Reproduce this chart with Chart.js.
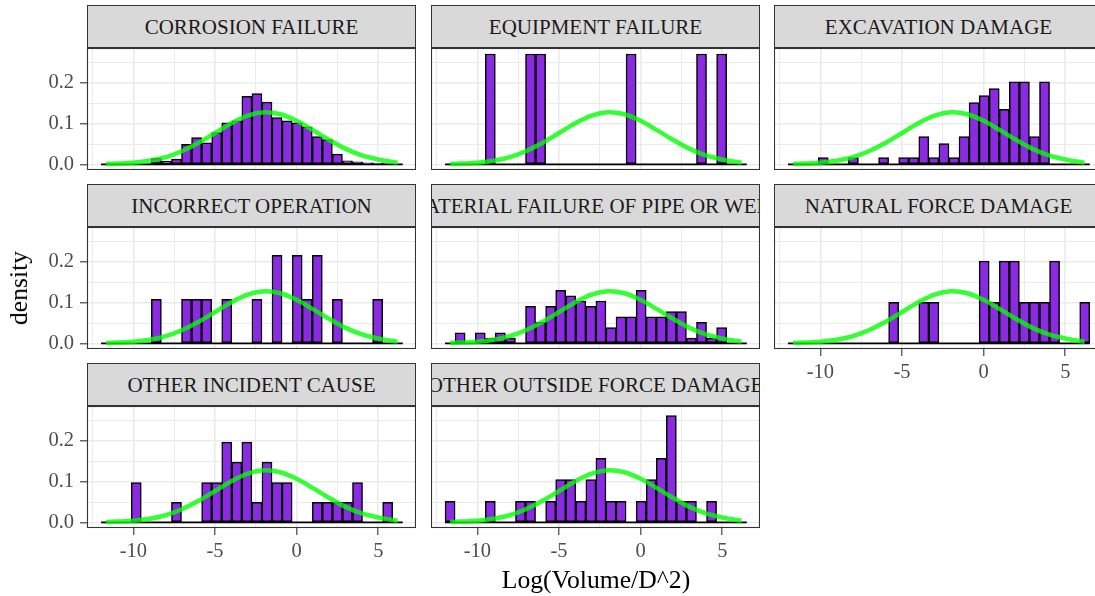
<!DOCTYPE html>
<html>
<head>
<meta charset="utf-8">
<script src="https://cdn.jsdelivr.net/npm/chart.js@4.4.1/dist/chart.umd.min.js"></script>
<style>
  html, body { margin: 0; padding: 0; background: #fff; }
  body { width: 1095px; height: 596px; position: relative; overflow: hidden;
         font-family: "Liberation Serif", "Times New Roman", serif; }
  canvas { position: absolute; }
  .strip { position: absolute; box-sizing: border-box; background: #D9D9D9;
           border: 1px solid #333; display: flex; justify-content: center; align-items: center;
           overflow: hidden; color: #1A1A1A; font-size: 21px; white-space: nowrap; padding-top: 2px; }
  .axis-title { position: absolute; font-size: 25.7px; color: #000; white-space: nowrap;
                transform: translate(-50%, -50%); }
  .axis-title.rot { transform: translate(-50%, -50%) rotate(-90deg); }
</style>
</head>
<body>
<script>
// histogram bins shared by all facets (30 bins)
const binStart = -11.98;
const binWidth = 0.616;

const facetNames = [
    "CORROSION FAILURE", "EQUIPMENT FAILURE", "EXCAVATION DAMAGE",
    "INCORRECT OPERATION", "MATERIAL FAILURE OF PIPE OR WELD", "NATURAL FORCE DAMAGE",
    "OTHER INCIDENT CAUSE", "OTHER OUTSIDE FORCE DAMAGE"
];

// density per bin
const corrosionFailure  = [0, 0, 0, 0, 0.002, 0.015, 0.008, 0.013, 0.049, 0.066, 0.053, 0.078, 0.102, 0.107, 0.167,
                           0.174, 0.153, 0.115, 0.107, 0.102, 0.092, 0.068, 0.061, 0.025, 0.009, 0.006, 0.004, 0.003, 0.002, 0];
const equipmentFailure  = [0, 0, 0, 0, 0.271, 0, 0, 0, 0.271, 0.271, 0, 0, 0, 0, 0,
                           0, 0, 0, 0.271, 0, 0, 0, 0, 0, 0, 0.271, 0, 0.271, 0, 0];
const excavationDamage  = [0, 0, 0, 0.017, 0, 0, 0.017, 0, 0, 0.017, 0, 0.017, 0.017, 0.068, 0.017,
                           0.051, 0.017, 0.068, 0.152, 0.169, 0.186, 0.135, 0.203, 0.203, 0.068, 0.203, 0, 0, 0, 0];
const incorrectOperation = [0, 0, 0, 0, 0, 0.108, 0, 0, 0.108, 0.108, 0.108, 0, 0.108, 0, 0,
                           0.108, 0, 0.216, 0, 0.216, 0.108, 0.216, 0, 0.108, 0, 0, 0, 0.108, 0, 0];
const materialFailure   = [0, 0.026, 0, 0.026, 0.013, 0.026, 0.013, 0, 0.091, 0.052, 0.091, 0.130, 0.117, 0.104, 0.091,
                           0.104, 0.039, 0.065, 0.065, 0.130, 0.065, 0.065, 0.078, 0.078, 0.013, 0.052, 0.013, 0.039, 0, 0];
const naturalForceDamage = [0, 0, 0, 0, 0, 0, 0, 0, 0, 0, 0.101, 0, 0, 0.101, 0.101,
                           0, 0, 0, 0, 0.202, 0.101, 0.202, 0.202, 0.101, 0.101, 0.101, 0.202, 0, 0, 0.101];
const otherIncidentCause = [0, 0, 0, 0.098, 0, 0, 0, 0.049, 0, 0, 0.098, 0.098, 0.197, 0.148, 0.197,
                           0.049, 0.148, 0.098, 0.098, 0, 0, 0.049, 0.049, 0.049, 0.049, 0.098, 0, 0, 0.049, 0];
const otherOutsideForce = [0.052, 0, 0, 0, 0.052, 0, 0, 0.052, 0.052, 0, 0.052, 0.105, 0.105, 0.052, 0.105,
                           0.157, 0.052, 0.052, 0, 0.052, 0.105, 0.157, 0.262, 0.052, 0.052, 0, 0.052, 0, 0, 0];

const facetDensities = [corrosionFailure, equipmentFailure, excavationDamage, incorrectOperation,
                        materialFailure, naturalForceDamage, otherIncidentCause, otherOutsideForce];

// green normal curve, same in every facet
const curveX = [-11.67, -11, -10, -9, -8, -7, -6, -5, -4, -3, -2, -1, 0, 1, 2, 3, 4, 5, 6, 6.18];
const curveY = [0.001, 0.002, 0.004, 0.009, 0.018, 0.033, 0.053, 0.077, 0.101, 0.12, 0.128, 0.123,
                0.107, 0.084, 0.06, 0.038, 0.022, 0.012, 0.005, 0.005];

const xBreaks = [-10, -5, 0, 5];
const xMinorBreaks = [-12.5, -7.5, -2.5, 2.5];
const yBreaks = [0, 0.1, 0.2];
const yMinorBreaks = [0.05, 0.15, 0.25];

// layout
const colLeft = [87, 431, 774];
const rowTop = [5, 184, 363];
const stripH = 43, plotW = 329, plotH = 122;
const yAxisW = 87, xAxisH = 46;
const xRange = [-12.84, 7.31];
const yRange = [-0.0138, 0.2858];

const panelBorder = {
    id: 'panelBorder',
    afterDraw(chart) {
        const { ctx, chartArea: a } = chart;
        ctx.save();
        ctx.strokeStyle = '#333333';
        ctx.lineWidth = 1.1;
        ctx.strokeRect(a.left + 0.5, a.top + 0.5, a.right - a.left - 1, a.bottom - a.top - 1);
        ctx.restore();
    }
};

function makeScale(range, breaks, minor, showLabels, size, horizontal, fmt, padding) {
    const all = [...breaks, ...minor].sort((a, b) => a - b);
    const isMajor = v => breaks.some(b => Math.abs(b - v) < 1e-9);
    return {
        type: 'linear', min: range[0], max: range[1], offset: false,
        afterBuildTicks: axis => { axis.ticks = all.map(v => ({ value: v })); },
        afterFit: axis => {
            if (horizontal) axis.height = size; else axis.width = size;
            // labels may spill past the panel, no extra room for them
            axis.paddingTop = axis.paddingBottom = axis.paddingLeft = axis.paddingRight = 0;
        },
        border: { display: false },
        grid: {
            offset: false,
            color: '#EBEBEB',
            lineWidth: ctx => isMajor(ctx.tick.value) ? 1.6 : 1,
            drawTicks: showLabels,
            tickLength: 7,
            tickWidth: 1.1,
            tickColor: ctx => isMajor(ctx.tick.value) ? '#333333' : 'rgba(0,0,0,0)'
        },
        ticks: {
            display: showLabels, autoSkip: false, maxRotation: 0, padding: padding,
            color: '#4D4D4D', font: { family: 'Liberation Serif', size: 20.5 },
            callback: v => isMajor(v) ? fmt(v) : ''
        }
    };
}

facetNames.forEach((name, i) => {
    const col = i % 3, row = Math.floor(i / 3);
    const showY = col === 0;
    const showX = row === 2 || i === 5;

    const strip = document.createElement('div');
    strip.className = 'strip';
    strip.style.left = colLeft[col] + 'px';
    strip.style.top = rowTop[row] + 'px';
    strip.style.width = plotW + 'px';
    strip.style.height = stripH + 'px';
    const label = document.createElement('span');
    label.textContent = name;
    strip.appendChild(label);
    document.body.appendChild(strip);

    const axisW = showY ? yAxisW : 0;
    const axisH = showX ? xAxisH : 0;
    const canvas = document.createElement('canvas');
    canvas.width = plotW + axisW;
    canvas.height = plotH + axisH;
    canvas.style.left = (colLeft[col] - axisW) + 'px';
    canvas.style.top = (rowTop[row] + stripH) + 'px';
    document.body.appendChild(canvas);

    const bars = facetDensities[i].map((d, k) => ({ x: binStart + (k + 0.5) * binWidth, y: d }));
    const curve = curveX.map((x, k) => ({ x: x, y: curveY[k] }));
    const baseline = [{ x: binStart, y: 0 }, { x: binStart + facetDensities[i].length * binWidth, y: 0 }];

    new Chart(canvas, {
        type: 'bar',
        data: {
            datasets: [
                { type: 'line', data: curve, borderColor: 'rgba(0,255,0,0.8)', borderWidth: 4.5,
                  pointRadius: 0, tension: 0.35, fill: false, order: 0 },
                { type: 'bar', data: bars, backgroundColor: '#8A2BE2', borderColor: '#000000',
                  borderWidth: 1.5, borderSkipped: false, barPercentage: 1, categoryPercentage: 1,
                  grouped: false, order: 1 },
                { type: 'line', data: baseline, borderColor: '#000000', borderWidth: 1.8,
                  pointRadius: 0, fill: false, order: 2 }
            ]
        },
        options: {
            responsive: false,
            animation: false,
            events: [],
            layout: { padding: 0 },
            plugins: { legend: { display: false }, tooltip: { enabled: false } },
            scales: {
                x: makeScale(xRange, xBreaks, xMinorBreaks, showX, axisH, true, v => String(v), 4),
                y: makeScale(yRange, yBreaks, yMinorBreaks, showY, axisW, false, v => v.toFixed(1), 6)
            }
        },
        plugins: [panelBorder]
    });
});

const yTitle = document.createElement('div');
yTitle.className = 'axis-title rot';
yTitle.textContent = 'density';
yTitle.style.left = '19px';
yTitle.style.top = '288px';
document.body.appendChild(yTitle);

const xTitle = document.createElement('div');
xTitle.className = 'axis-title';
xTitle.textContent = 'Log(Volume/D^2)';
xTitle.style.left = '596px';
xTitle.style.top = '579.5px';
document.body.appendChild(xTitle);
</script>
</body>
</html>
